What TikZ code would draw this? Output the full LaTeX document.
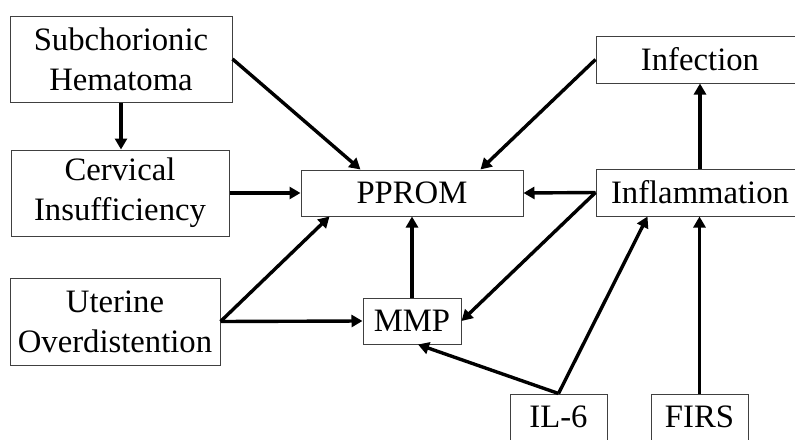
\documentclass[tikz,border=0pt]{standalone}
\usepackage{fontspec}
\setmainfont{Liberation Serif}
\usetikzlibrary{arrows.meta}
\begin{document}
\begin{tikzpicture}[x=1pt,y=-1pt,
  box/.style={draw=black!75, line width=1pt, rectangle, inner sep=0pt,
    align=center, font=\fontsize{32.7}{40}\selectfont},
  link/.style={line width=3.4pt, -{Triangle[length=11pt,width=12pt]}},
  plain/.style={line width=3.4pt}]
  \useasboundingbox (0,0) rectangle (795,439);
  \begin{scope}
    \clip (0,0) rectangle (795,439);
    % causes on the left
    \node[box, minimum width=222pt, minimum height=86pt] (sub) at (121,59) {Subchorionic\\Hematoma};
    \node[box, minimum width=218pt, minimum height=86pt] (cerv) at (120,193) {Cervical\\Insufficiency};
    \node[box, minimum width=210pt, minimum height=87pt] (ut) at (115,321.5) {Uterine\\Overdistention};
    % central outcome and mediator
    \node[box, minimum width=222pt, minimum height=46pt] (pprom) at (412,193) {PPROM};
    \node[box, minimum width=98pt, minimum height=46pt] (mmp) at (412,321) {MMP};
    % right-hand column
    \node[box, minimum width=208pt, minimum height=47pt] (inf) at (700,59.5) {Infection};
    \node[box, minimum width=208pt, minimum height=47pt] (infl) at (700,192.5) {Inflammation};
    \node[box, minimum width=97pt, minimum height=46pt] (il6) at (558.5,417) {IL-6};
    \node[box, minimum width=97pt, minimum height=46pt] (firs) at (699.5,417) {FIRS};
  \end{scope}

  % connectors
  \draw[link] (sub.east) -- ([xshift=60pt]pprom.north west);
  \draw[link] (sub.south) -- (sub.south |- cerv.north);
  \draw[link] (cerv.east) -- (pprom.west);
  \draw[link] (inf.west) -- ([xshift=-43pt]pprom.north east);
  \draw[link] (infl.north) -- (inf.south);
  \draw[link] (infl.west) -- (pprom.east);
  \draw[link] (infl.west) -- (mmp.east);
  \draw[link] (ut.east) -- ([xshift=29pt]pprom.south west);
  \draw[link] (ut.east) -- (mmp.west);
  \draw[link] (mmp.north) -- (pprom.south);
  \draw[link] (il6.north) -- ([xshift=6pt]mmp.south);
  \draw[link] (il6.north) -- ([xshift=52pt]infl.south west);
  \draw[link] (firs.north) -- (firs.north |- infl.south);
\end{tikzpicture}
\end{document}
